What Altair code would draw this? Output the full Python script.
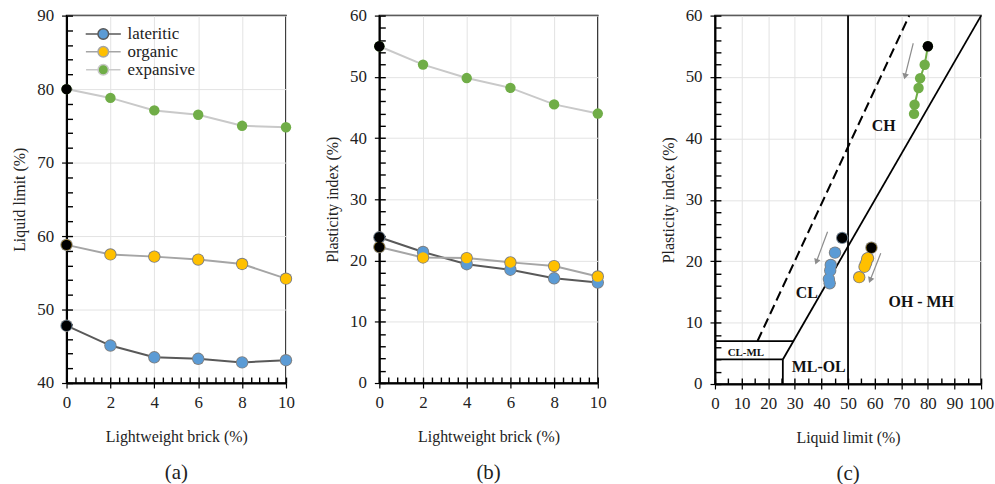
import math
import altair as alt
import pandas as pd

# ---------------- data ----------------
brick = [0, 2, 4, 6, 8, 10]
series = ["lateritic", "organic", "expansive"]

ll_lateritic = [47.8, 45.1, 43.5, 43.3, 42.8, 43.1]
ll_organic = [58.8, 57.5, 57.2, 56.8, 56.2, 54.2]
ll_expansive = [80.0, 78.8, 77.1, 76.5, 75.0, 74.8]

pi_lateritic = [23.8, 21.4, 19.4, 18.5, 17.1, 16.4]
pi_organic = [22.2, 20.5, 20.4, 19.7, 19.1, 17.4]
pi_expansive = [55.0, 52.0, 49.8, 48.2, 45.5, 44.0]

fill_colors = ["#5b9bd5", "#ffc000", "#70ad47"]
line_colors = ["#595959", "#a5a5a5", "#c9c9c9"]

# plasticity chart boundaries (LL, PI)
seg_x1 = [0, 0, 25.5, 25.5, 50]
seg_y1 = [4, 7, 0, 4, 0]
seg_x2 = [25.5, 29.4, 25.5, 100, 50]
seg_y2 = [4, 7, 4, 60, 60]
uline_x = [16, 73]
uline_y = [7, 60]

zone_labels = ["CH", "CL", "OH - MH", "ML-OL"]
zone_x = [63.4, 34.5, 77.5, 39.0]
zone_y = [42.0, 14.8, 13.3, 2.8]
small_label = ["CL-ML"]
small_x = [11.6]
small_y = [5.1]

arrow_x1 = [74.5, 42.3, 62.3]
arrow_y1 = [55.5, 24.8, 21.3]
arrow_x2 = [71.4, 38.1, 58.3]
arrow_y2 = [50.1, 19.9, 16.9]

# ---------------- tables ----------------
rows = []
for s, lls, pis in zip(series, [ll_lateritic, ll_organic, ll_expansive],
                       [pi_lateritic, pi_organic, pi_expansive]):
    for b, l, p in zip(brick, lls, pis):
        rows.append({"series": s, "brick": b, "ll": l, "pi": p})
df = pd.DataFrame(rows)

FONT = "Liberation Serif"
LEG_PATH = "M -3.3 0 L -1 0 M 1 0 L 3.3 0 M 1 0 A 1 1 0 1 1 -1 0 A 1 1 0 1 1 1 0 Z"

fill_scale = alt.Scale(domain=series, range=fill_colors)
stroke_scale = alt.Scale(domain=series, range=line_colors)
size_scale = alt.Scale(domain=series, range=[115, 110, 85])


def caption(t):
    return alt.TitleParams(text=t, orient="bottom", frame="group", anchor="middle",
                           fontSize=21, offset=18, font=FONT, fontWeight="normal", color="#222")


def minor_axis(orient, offset, values):
    return alt.Axis(orient=orient, offset=offset, values=values, labels=False, domain=False,
                    grid=False, ticks=True, tickSize=6, tickColor="black", tickWidth=1.4,
                    title=None)


def brick_panel(ycol, ytitle, ydom, ymajor, yminor, cap, w, h, legend):
    base = alt.Chart(df)
    xs = alt.Scale(domain=[0, 10], nice=False, zero=False)
    ys = alt.Scale(domain=ydom, nice=False, zero=False)
    xminor = [round(i * 0.4, 1) for i in range(26)]
    if legend:
        leg = alt.Legend(orient="none", legendX=28.5, legendY=10, title=None,
                         symbolType=LEG_PATH, symbolSize=100, symbolStrokeWidth=1.5,
                         labelFont=FONT, labelFontSize=17, labelColor="#222",
                         labelOffset=16, rowPadding=0, padding=0)
    else:
        leg = None
    main_x = alt.Axis(values=brick, title="Lightweight brick (%)", grid=True, orient="bottom",
                      tickSize=5, labelPadding=7, titlePadding=18, format="d", labelFlush=False)
    main_y = alt.Axis(values=ymajor, title=ytitle, grid=True, orient="left",
                      tickSize=5, labelPadding=8, titlePadding=9, format="d", labelFlush=False)
    X = lambda ax: alt.X("brick:Q", scale=xs, axis=ax)
    Y = lambda ax: alt.Y(f"{ycol}:Q", scale=ys, axis=ax)

    line = base.mark_line(strokeWidth=2).encode(
        x=X(main_x), y=Y(main_y),
        stroke=alt.Stroke("series:N", scale=stroke_scale, legend=leg))
    outline = base.transform_filter("datum.series != 'expansive'").mark_point(
        filled=True, size=155, color="#7f7f7f", opacity=1).encode(x=X(None), y=Y(None))
    pts = base.mark_point(filled=True, opacity=1, strokeWidth=0).encode(
        x=X(None), y=Y(None),
        fill=alt.Fill("series:N", scale=fill_scale, legend=leg),
        size=alt.Size("series:N", scale=size_scale, legend=None))
    first = base.transform_filter("datum.brick == 0").mark_point(
        filled=True, size=110, color="black", opacity=1).encode(x=X(None), y=Y(None))
    minor = base.mark_point(opacity=0).encode(
        x=X(minor_axis("top", -h, xminor)),
        y=Y(minor_axis("right", -w, yminor)))
    return alt.layer(line, outline, pts, first, minor).resolve_axis(
        x="independent", y="independent").properties(width=w, height=h, title=caption(cap))


pa = brick_panel("ll", "Liquid limit (%)", [40, 90], [40, 50, 60, 70, 80, 90],
                 list(range(40, 91, 2)), "(a)", 221, 370, True)
pb = brick_panel("pi", "Plasticity index (%)", [0, 60], [0, 10, 20, 30, 40, 50, 60],
                 list(range(0, 61, 2)), "(b)", 220, 370, False)

# ---------------- panel (c) ----------------
WC, HC = 268, 371
xs_c = alt.Scale(domain=[0, 100], nice=False, zero=False)
ys_c = alt.Scale(domain=[0, 60], nice=False, zero=False)

seg_df = pd.DataFrame({"x1": seg_x1, "y1": seg_y1, "x2": seg_x2, "y2": seg_y2})
u_df = pd.DataFrame({"x": uline_x, "y": uline_y})
zone_df = pd.DataFrame({"label": zone_labels, "x": zone_x, "y": zone_y})
small_df = pd.DataFrame({"label": small_label, "x": small_x, "y": small_y})
arr_df = pd.DataFrame({"x1": arrow_x1, "y1": arrow_y1, "x2": arrow_x2, "y2": arrow_y2})
px_x, px_y = WC / 100.0, HC / 60.0
arr_df["angle"] = [
    (math.degrees(math.atan2((b2 - a2) * px_x, (d2 - c2) * px_y)) + 360) % 360
    for a2, b2, c2, d2 in zip(arr_df.x1, arr_df.x2, arr_df.y1, arr_df.y2)
]

main_xc = alt.Axis(values=list(range(0, 101, 10)), title="Liquid limit (%)", grid=True,
                   orient="bottom", tickSize=5, labelPadding=7, titlePadding=18, format="d",
                   labelFlush=False)
main_yc = alt.Axis(values=list(range(0, 61, 10)), title="Plasticity index (%)", grid=True,
                   orient="left", tickSize=5, labelPadding=8, titlePadding=9, format="d",
                   labelFlush=False)

segs = alt.Chart(seg_df).mark_rule(color="black", strokeWidth=1.8).encode(
    x=alt.X("x1:Q", scale=xs_c, axis=None), y=alt.Y("y1:Q", scale=ys_c, axis=None),
    x2="x2:Q", y2="y2:Q")
uline = alt.Chart(u_df).mark_line(color="black", strokeWidth=2, strokeDash=[10, 5]).encode(
    x=alt.X("x:Q", scale=xs_c, axis=None), y=alt.Y("y:Q", scale=ys_c, axis=None))
zones = alt.Chart(zone_df).mark_text(font=FONT, fontSize=16, fontWeight="bold", color="#111").encode(
    x=alt.X("x:Q", scale=xs_c, axis=None), y=alt.Y("y:Q", scale=ys_c, axis=None), text="label:N")
smalls = alt.Chart(small_df).mark_text(font=FONT, fontSize=11, fontWeight="bold", color="#111").encode(
    x=alt.X("x:Q", scale=xs_c, axis=None), y=alt.Y("y:Q", scale=ys_c, axis=None), text="label:N")
arr_line = alt.Chart(arr_df).mark_rule(color="#8c8c8c", strokeWidth=1.2).encode(
    x=alt.X("x1:Q", scale=xs_c, axis=None), y=alt.Y("y1:Q", scale=ys_c, axis=None),
    x2="x2:Q", y2="y2:Q")
arr_head = alt.Chart(arr_df).mark_point(shape="triangle-up", filled=True, size=45,
                                        color="#8c8c8c", opacity=1).encode(
    x=alt.X("x2:Q", scale=xs_c, axis=None), y=alt.Y("y2:Q", scale=ys_c, axis=None),
    angle=alt.Angle("angle:Q", scale=None))

basec = alt.Chart(df)
XC = lambda ax: alt.X("ll:Q", scale=xs_c, axis=ax)
YC = lambda ax: alt.Y("pi:Q", scale=ys_c, axis=ax)
frame_c = basec.mark_point(opacity=0).encode(x=XC(main_xc), y=YC(main_yc))
green_line = basec.transform_filter("datum.series == 'expansive'").mark_line(
    color="#70ad47", strokeWidth=2).encode(x=XC(None), y=YC(None), order="brick:Q")
outline_c = basec.transform_filter("datum.series != 'expansive'").mark_point(
    filled=True, size=155, color="#7f7f7f", opacity=1).encode(x=XC(None), y=YC(None))
pts_c = basec.mark_point(filled=True, opacity=1, strokeWidth=0).encode(
    x=XC(None), y=YC(None),
    fill=alt.Fill("series:N", scale=fill_scale, legend=None),
    size=alt.Size("series:N", scale=size_scale, legend=None))
first_c = basec.transform_filter("datum.brick == 0").mark_point(
    filled=True, size=110, color="black", opacity=1).encode(x=XC(None), y=YC(None))
minor_c = basec.mark_point(opacity=0).encode(
    x=XC(minor_axis("top", -HC, list(range(0, 101, 5)))),
    y=YC(minor_axis("right", -WC, list(range(0, 61, 2)))))

pc = alt.layer(frame_c, segs, uline, zones, smalls, arr_line, arr_head,
               green_line, outline_c, pts_c, first_c, minor_c
               ).resolve_axis(x="independent", y="independent").properties(
    width=WC, height=HC, title=caption("(c)"))

inner = alt.hconcat(pa, pb, spacing=28).resolve_scale(
    fill="independent", stroke="independent", size="independent").resolve_legend(
    fill="independent", stroke="independent", size="independent")

chart = alt.hconcat(inner, pc, spacing=52).resolve_scale(
    fill="independent", stroke="independent", size="independent").resolve_legend(
    fill="independent", stroke="independent", size="independent").properties(
    padding={"left": 11, "top": 4, "right": 0, "bottom": 0}
).configure_axis(
    labelFont=FONT, titleFont=FONT, labelFontSize=17, titleFontSize=16,
    titleFontWeight="normal", labelColor="#222", titleColor="#222",
    domainColor="black", domainWidth=2, tickColor="black", tickWidth=1.2,
    gridColor="#e3e3e3", gridWidth=1
).configure_view(stroke="black", strokeWidth=1.5).configure_title(font=FONT)

chart.save("out.html", embed_options={"renderer": "svg", "actions": False})
